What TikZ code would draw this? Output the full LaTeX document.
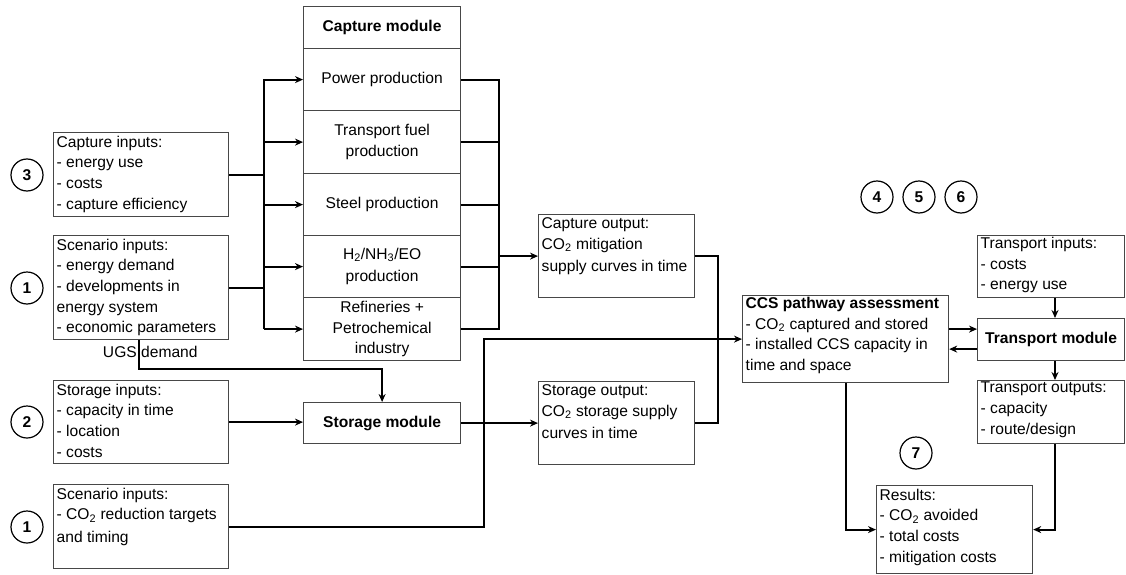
\documentclass[tikz,border=0pt]{standalone}
\usepackage{fontspec}
\setmainfont{Liberation Sans}
\usetikzlibrary{arrows.meta,calc}
\newcommand\fs{\fontsize{15.6}{20.7}\selectfont}
\begin{document}
\begin{tikzpicture}[x=1pt,y=-1pt,
  box/.style={draw=black!72, line width=1.2pt, inner sep=0pt, anchor=north west, align=center, font=\fs},
  txt/.style={anchor=north west, align=left, inner xsep=3.5pt, inner ysep=3.5pt, font=\fs},
  conn/.style={line width=2.1pt, line join=miter},
  arr/.style={conn, -{Stealth[length=8pt,width=7pt]}},
  circ/.style={draw, circle, line width=1.2pt, minimum size=32pt, inner sep=0pt, font=\fs\bfseries}]
\useasboundingbox (0,0) rectangle (1126,575);

% circles
\node[circ] (c3) at (27,175) {3};
\node[circ] (c1a) at (27,288) {1};
\node[circ] (c2) at (27,422) {2};
\node[circ] (c1b) at (27,527) {1};
\node[circ] (c4) at (877,197) {4};
\node[circ] (c5) at (919,197) {5};
\node[circ] (c6) at (961,197) {6};
\node[circ] (c7) at (916,453) {7};

% left input boxes
\node[box, minimum width=175pt, minimum height=84pt] (capin) at (53,132) {};
\node[txt] (capin-t) at (capin.north west) {Capture inputs:\\- energy use\\- costs\\- capture efficiency};
\node[box, minimum width=175pt, minimum height=104pt] (scin1) at (53,235) {};
\node[txt] (scin1-t) at (scin1.north west) {Scenario inputs:\\- energy demand\\- developments in\\energy system\\- economic parameters};
\node[box, minimum width=175pt, minimum height=83pt] (stin) at (53,380) {};
\node[txt] (stin-t) at (stin.north west) {Storage inputs:\\- capacity in time\\- location\\- costs};
\node[box, minimum width=175pt, minimum height=84pt] (scin2) at (53,484) {};
\node[txt] (scin2-t) at (scin2.north west) {Scenario inputs:\\- CO\textsubscript{2} reduction targets\\[2pt]and timing};

% capture module
\node[box, minimum width=157pt, minimum height=42pt, font=\fs\bfseries] (cmh) at (303,6) {Capture module};
\node[box, minimum width=157pt, minimum height=62pt] (pow) at (303,48) {Power production};
\node[box, minimum width=157pt, minimum height=63pt] (tfp) at (303,110) {Transport fuel\\production};
\node[box, minimum width=157pt, minimum height=62pt] (stl) at (303,173) {Steel production};
\node[box, minimum width=157pt, minimum height=62pt] (h2) at (303,235) {H\textsubscript{2}/NH\textsubscript{3}/EO\\[2pt]production};
\node[box, minimum width=157pt, minimum height=63pt] (ref) at (303,297) {Refineries +\\Petrochemical\\industry};

% storage module
\node[box, minimum width=157pt, minimum height=41pt, font=\fs\bfseries] (stm) at (303,402) {Storage module};

% outputs
\node[box, minimum width=156pt, minimum height=83pt] (capout) at (538,214) {};
\node[txt] (capout-t) at (capout.north west) {Capture output:\\CO\textsubscript{2} mitigation\\[2pt]supply curves in time};
\node[box, minimum width=156pt, minimum height=83pt] (stout) at (538,381) {};
\node[txt] (stout-t) at (stout.north west) {Storage output:\\CO\textsubscript{2} storage supply\\[2pt]curves in time};

% CCS pathway
\node[box, minimum width=206pt, minimum height=87pt] (ccs) at (742,295) {};
\node[txt, inner ysep=2pt] (ccs-t) at (ccs.north west) {\textbf{CCS pathway assessment}\\- CO\textsubscript{2} captured and stored\\- installed CCS capacity in\\time and space};

% transport
\node[box, minimum width=147pt, minimum height=62pt] (trin) at (977,235) {};
\node[txt, inner ysep=2pt] (trin-t) at (trin.north west) {Transport inputs:\\- costs\\- energy use};
\node[box, minimum width=147pt, minimum height=42pt, font=\fs\bfseries] (trm) at (977,318) {Transport module};
\node[box, minimum width=147pt, minimum height=63pt] (trout) at (977,380) {};
\node[txt, inner ysep=2pt] (trout-t) at (trout.north west) {Transport outputs:\\- capacity\\- route/design};

% results
\node[box, minimum width=156pt, minimum height=88pt] (res) at (876,485) {};
\node[txt] (res-t) at (res.north west) {Results:\\- CO\textsubscript{2} avoided\\- total costs\\- mitigation costs};

% helper coordinates
\coordinate (lb) at (264,0);
\coordinate (rb) at (499,0);
\coordinate (ob) at (718,0);
\coordinate (vb) at (484,0);
\coordinate (u1) at (139,369);
\coordinate (tx) at (1055,0);

% left bus
\draw[conn] (capin.east) -- (capin.east -| lb);
\draw[conn] (scin1.east) -- (scin1.east -| lb);
\draw[arr] (ref.west -| lb) |- (pow.west);
\draw[arr] (tfp.west -| lb) -- (tfp.west);
\draw[arr] (stl.west -| lb) -- (stl.west);
\draw[arr] (h2.west -| lb) -- (h2.west);
\draw[arr] (ref.west -| lb) -- (ref.west);

% right bus
\draw[conn] (pow.east) -| (ref.east -| rb) -- (ref.east);
\draw[conn] (tfp.east) -- (tfp.east -| rb);
\draw[conn] (stl.east) -- (stl.east -| rb);
\draw[conn] (h2.east) -- (h2.east -| rb);
\draw[arr] (capout.west -| rb) -- (capout.west);

% UGS demand
\draw[arr] (scin1.south -| u1) |- (stm.north |- u1) -- (stm.north);
\node[anchor=east, inner xsep=2pt, font=\fs] (ugs) at (139,352) {UGS};
\node[anchor=west, inner xsep=2pt, font=\fs] (dem) at (139,352) {demand};

% storage
\draw[arr] (stin.east) -- (stin.east -| stm.west);
\draw[arr] (stm.east) -- (stm.east -| stout.west);

% outputs to pathway
\draw[conn] (capout.east) -| (stout.east -| ob) -- (stout.east);
\draw[arr] (scin2.east) -| (ccs.west -| vb) -- (ccs.west);

% CCS <-> transport
\draw[arr] ([yshift=10pt]ccs.east) -- ([yshift=10pt]ccs.east -| trm.west);
\draw[arr] ([yshift=-10pt]ccs.east -| trm.west) -- ([yshift=-10pt]ccs.east);
\draw[arr] (trin.south -| tx) -- (trm.north -| tx);
\draw[arr] (trm.south -| tx) -- (trout.north -| tx);

% to results
\draw[arr] (trout.south -| tx) |- (res.east);
\draw[arr] (ccs.south) |- (res.west);
\end{tikzpicture}
\end{document}
